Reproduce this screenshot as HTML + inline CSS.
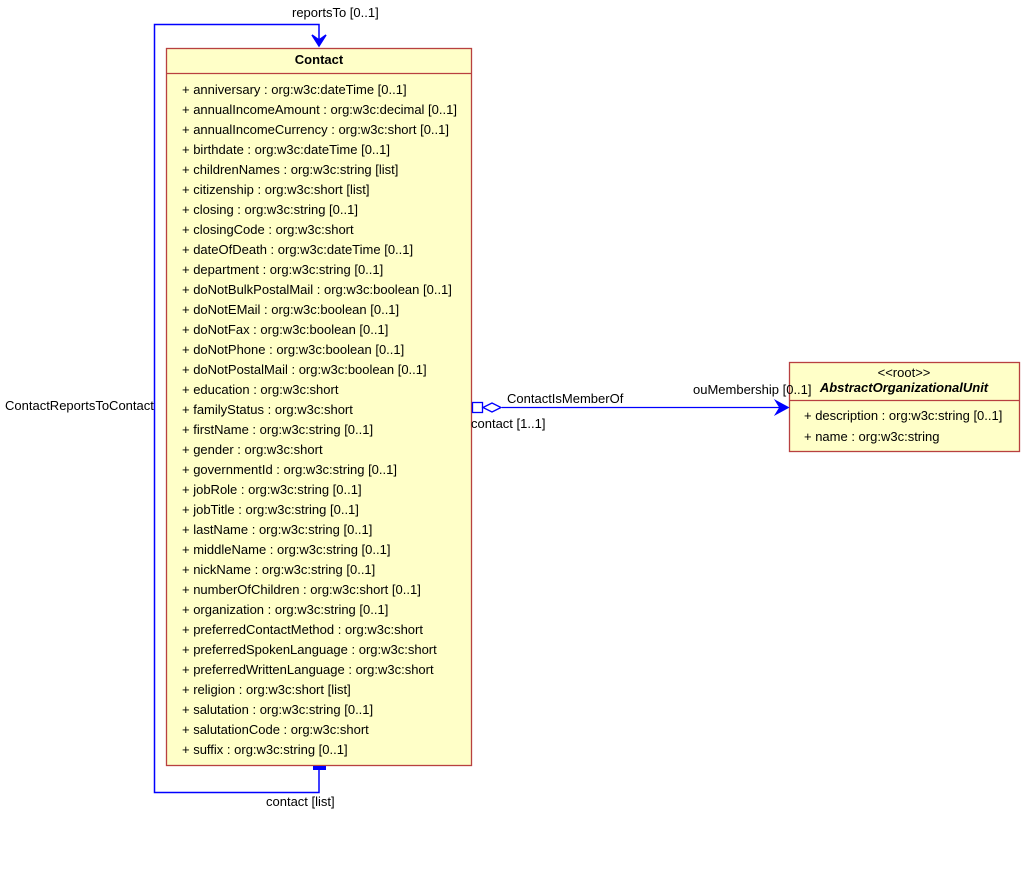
<!DOCTYPE html>
<html><head><style>body{margin:0;background:#fff}svg text{font-family:"Liberation Sans",Arial,sans-serif;font-size:13px;fill:#000}</style></head>
<body>
<svg width="1025" height="874" xmlns="http://www.w3.org/2000/svg">
<rect x="166.5" y="48.5" width="305" height="717" fill="#ffffc8" stroke="#b84040" stroke-width="1.3"/>
<line x1="166" y1="73.5" x2="472" y2="73.5" stroke="#b84040" stroke-width="1.3"/>
<text x="319" y="64" text-anchor="middle" font-weight="bold">Contact</text>
<g>
<text x="182" y="94">+ anniversary : org:w3c:dateTime [0..1]</text>
<text x="182" y="114">+ annualIncomeAmount : org:w3c:decimal [0..1]</text>
<text x="182" y="134">+ annualIncomeCurrency : org:w3c:short [0..1]</text>
<text x="182" y="154">+ birthdate : org:w3c:dateTime [0..1]</text>
<text x="182" y="174">+ childrenNames : org:w3c:string [list]</text>
<text x="182" y="194">+ citizenship : org:w3c:short [list]</text>
<text x="182" y="214">+ closing : org:w3c:string [0..1]</text>
<text x="182" y="234">+ closingCode : org:w3c:short</text>
<text x="182" y="254">+ dateOfDeath : org:w3c:dateTime [0..1]</text>
<text x="182" y="274">+ department : org:w3c:string [0..1]</text>
<text x="182" y="294">+ doNotBulkPostalMail : org:w3c:boolean [0..1]</text>
<text x="182" y="314">+ doNotEMail : org:w3c:boolean [0..1]</text>
<text x="182" y="334">+ doNotFax : org:w3c:boolean [0..1]</text>
<text x="182" y="354">+ doNotPhone : org:w3c:boolean [0..1]</text>
<text x="182" y="374">+ doNotPostalMail : org:w3c:boolean [0..1]</text>
<text x="182" y="394">+ education : org:w3c:short</text>
<text x="182" y="414">+ familyStatus : org:w3c:short</text>
<text x="182" y="434">+ firstName : org:w3c:string [0..1]</text>
<text x="182" y="454">+ gender : org:w3c:short</text>
<text x="182" y="474">+ governmentId : org:w3c:string [0..1]</text>
<text x="182" y="494">+ jobRole : org:w3c:string [0..1]</text>
<text x="182" y="514">+ jobTitle : org:w3c:string [0..1]</text>
<text x="182" y="534">+ lastName : org:w3c:string [0..1]</text>
<text x="182" y="554">+ middleName : org:w3c:string [0..1]</text>
<text x="182" y="574">+ nickName : org:w3c:string [0..1]</text>
<text x="182" y="594">+ numberOfChildren : org:w3c:short [0..1]</text>
<text x="182" y="614">+ organization : org:w3c:string [0..1]</text>
<text x="182" y="634">+ preferredContactMethod : org:w3c:short</text>
<text x="182" y="654">+ preferredSpokenLanguage : org:w3c:short</text>
<text x="182" y="674">+ preferredWrittenLanguage : org:w3c:short</text>
<text x="182" y="694">+ religion : org:w3c:short [list]</text>
<text x="182" y="714">+ salutation : org:w3c:string [0..1]</text>
<text x="182" y="734">+ salutationCode : org:w3c:short</text>
<text x="182" y="754">+ suffix : org:w3c:string [0..1]</text>
</g>
<polyline points="319,770 319,792.5 154.5,792.5 154.5,24.5 319,24.5 319,46" fill="none" stroke="#0000ff" stroke-width="1.5"/>
<polygon points="312,35 319,46 326,35 319,40" fill="#0000ff" stroke="#0000ff" stroke-width="1.5"/>
<rect x="313" y="766" width="13" height="4" fill="#0000ff"/>
<text x="292" y="17">reportsTo  [0..1]</text>
<text x="266" y="806">contact [list]</text>
<text x="5" y="410">ContactReportsToContact</text>
<rect x="789.5" y="362.5" width="230" height="89" fill="#ffffc8" stroke="#b84040" stroke-width="1.3"/>
<line x1="789" y1="400.5" x2="1020" y2="400.5" stroke="#b84040" stroke-width="1.3"/>
<text x="904" y="377" text-anchor="middle">&lt;&lt;root&gt;&gt;</text>
<text x="904" y="392" text-anchor="middle" font-weight="bold" font-style="italic">AbstractOrganizationalUnit</text>
<text x="804" y="420">+ description : org:w3c:string [0..1]</text>
<text x="804" y="441">+ name : org:w3c:string</text>
<line x1="502" y1="407.5" x2="788" y2="407.5" stroke="#0000ff" stroke-width="1.3"/>
<rect x="472.5" y="402.5" width="10" height="10" fill="#fff" stroke="#0000ff" stroke-width="1.3"/>
<polygon points="483,407.5 492,403 501,407.5 492,412" fill="#fff" stroke="#0000ff" stroke-width="1.3"/>
<polygon points="776,401 788,407.5 776,414 780,407.5" fill="#0000ff" stroke="#0000ff" stroke-width="1.5"/>
<text x="507" y="403">ContactIsMemberOf</text>
<text x="693" y="394">ouMembership [0..1]</text>
<text x="471" y="428">contact [1..1]</text>
</svg>
</body></html>
